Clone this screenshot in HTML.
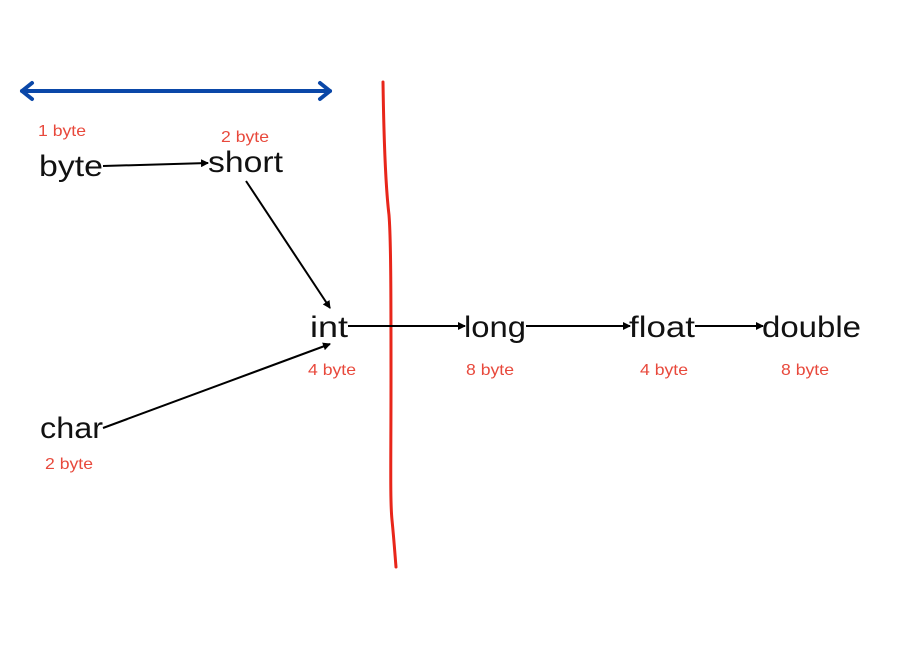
<!DOCTYPE html>
<html><head><style>
html,body{margin:0;padding:0;background:#fff;}
svg{display:block;}
.l{font-family:"Liberation Sans",sans-serif;font-size:30px;fill:#111;}
.s{font-family:"Liberation Sans",sans-serif;font-size:16px;fill:#e8493c;}
</style></head><body>
<svg width="900" height="650" viewBox="0 0 900 650" xmlns="http://www.w3.org/2000/svg">
<defs>
<marker id="a" markerWidth="8" markerHeight="8" refX="7" refY="4" orient="auto" markerUnits="userSpaceOnUse">
<path d="M0,0 L8,4 L0,8 z" fill="#000"/></marker>
</defs>
<g stroke="#0a47a8" stroke-width="4" fill="none" stroke-linecap="round" stroke-linejoin="round">
<line x1="22" y1="91" x2="330" y2="91"/>
<polyline points="32,83 22,91 32,99"/>
<polyline points="320,83 330,91 320,99"/>
</g>
<path d="M383,82 C384,150 386,190 389,215 C391,240 391,300 391,380 C391,460 390,500 392,520 C394,540 395,555 396,567" stroke="#e8261a" stroke-width="3" fill="none" stroke-linecap="round"/>
<g stroke="#000" stroke-width="2" fill="none" marker-end="url(#a)">
<line x1="103" y1="166" x2="208" y2="163"/>
<line x1="246" y1="181" x2="330" y2="308"/>
<line x1="103" y1="428" x2="330" y2="344"/>
<line x1="348" y1="326" x2="465" y2="326"/>
<line x1="526" y1="326" x2="630" y2="326"/>
<line x1="695" y1="326" x2="763" y2="326"/>
</g>
<text class="l" x="39" y="176" textLength="64" lengthAdjust="spacingAndGlyphs">byte</text>
<text class="l" x="208" y="172" textLength="75" lengthAdjust="spacingAndGlyphs">short</text>
<text class="l" x="310" y="337" textLength="38" lengthAdjust="spacingAndGlyphs">int</text>
<text class="l" x="40" y="438" textLength="63" lengthAdjust="spacingAndGlyphs">char</text>
<text class="l" x="464" y="337" textLength="62" lengthAdjust="spacingAndGlyphs">long</text>
<text class="l" x="629" y="337" textLength="66" lengthAdjust="spacingAndGlyphs">float</text>
<text class="l" x="762" y="337" textLength="99" lengthAdjust="spacingAndGlyphs">double</text>
<text class="s" x="38" y="136" textLength="48" lengthAdjust="spacingAndGlyphs">1 byte</text>
<text class="s" x="221" y="142" textLength="48" lengthAdjust="spacingAndGlyphs">2 byte</text>
<text class="s" x="308" y="375" textLength="48" lengthAdjust="spacingAndGlyphs">4 byte</text>
<text class="s" x="466" y="375" textLength="48" lengthAdjust="spacingAndGlyphs">8 byte</text>
<text class="s" x="640" y="375" textLength="48" lengthAdjust="spacingAndGlyphs">4 byte</text>
<text class="s" x="781" y="375" textLength="48" lengthAdjust="spacingAndGlyphs">8 byte</text>
<text class="s" x="45" y="469" textLength="48" lengthAdjust="spacingAndGlyphs">2 byte</text>
</svg>
</body></html>
